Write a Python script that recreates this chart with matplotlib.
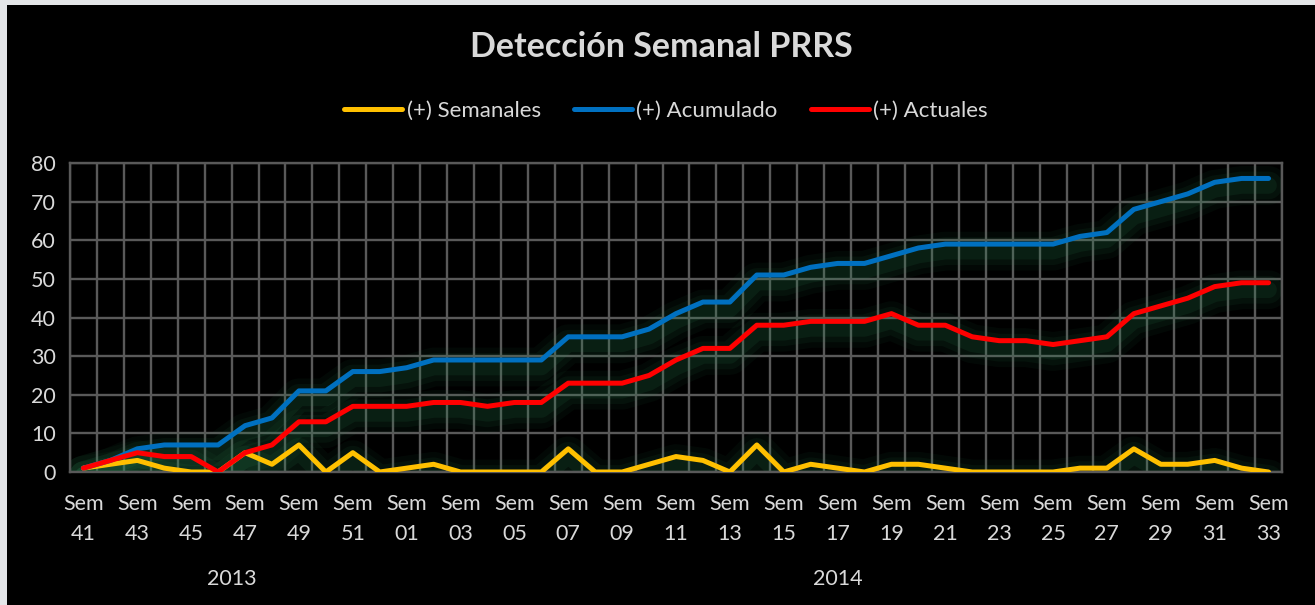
import matplotlib
matplotlib.use("Agg")
import matplotlib.pyplot as plt
import matplotlib.transforms as mtransforms
from matplotlib.patches import Rectangle

plt.rcParams['font.family'] = ['Lato', 'DejaVu Sans']

# ---- data ----
weeks_2013 = ["41", "42", "43", "44", "45", "46", "47", "48", "49", "50", "51", "52"]
weeks_2014 = ["01", "02", "03", "04", "05", "06", "07", "08", "09", "10", "11",
              "12", "13", "14", "15", "16", "17", "18", "19", "20", "21", "22",
              "23", "24", "25", "26", "27", "28", "29", "30", "31", "32", "33"]
years = ["2013", "2014"]

semanales = [1, 2, 3, 1, 0, 0, 5, 2, 7, 0, 5, 0,
             1, 2, 0, 0, 0, 0, 6, 0, 0, 2, 4, 3, 0, 7, 0, 2, 1, 0,
             2, 2, 1, 0, 0, 0, 0, 1, 1, 6, 2, 2, 3, 1, 0]
acumulado = [1, 3, 6, 7, 7, 7, 12, 14, 21, 21, 26, 26,
             27, 29, 29, 29, 29, 29, 35, 35, 35, 37, 41, 44, 44, 51, 51, 53, 54, 54,
             56, 58, 59, 59, 59, 59, 59, 61, 62, 68, 70, 72, 75, 76, 76]
actuales = [1, 3, 5, 4, 4, 0, 5, 7, 13, 13, 17, 17,
            17, 18, 18, 17, 18, 18, 23, 23, 23, 25, 29, 32, 32, 38, 38, 39, 39, 39,
            41, 38, 38, 35, 34, 34, 33, 34, 35, 41, 43, 45, 48, 49, 49]

series_names = ["(+) Semanales", "(+) Acumulado", "(+) Actuales"]
series_colors = ["#FFC000", "#0070C0", "#FF0000"]

categories = [("Sem\n" + w) for w in weeks_2013 + weeks_2014]
n = len(categories)
x = list(range(n))

W, H = 1315, 605
fig = plt.figure(figsize=(W / 100, H / 100), dpi=100)
fig.patch.set_facecolor("#E4E6E8")
fig.add_artist(Rectangle((7 / W, 0), 1 - 7 / W, 1 - 5 / H, transform=fig.transFigure,
                         facecolor="black", edgecolor="none", zorder=0))

ax = fig.add_axes([70 / W, 1 - 472 / H, (1282 - 70) / W, (472 - 163) / H])
ax.set_facecolor("black")

txt_c = "#D9D9D9"
grid_c = "#595959"
ax.set_xlim(-0.5, n - 0.5)
ax.set_ylim(0, 80)
ax.set_yticks(range(0, 81, 10))
ax.set_xticks(x[::2])
ax.set_xticklabels(categories[::2], linespacing=1.6)
ax.set_xticks([i - 0.5 for i in range(n + 1)], minor=True)
ax.grid(True, which="major", axis="y", color=grid_c, linewidth=1.7)
ax.grid(True, which="minor", axis="x", color=grid_c, linewidth=1.7)
ax.grid(False, which="major", axis="x")
ax.tick_params(axis="both", which="both", length=0, colors=txt_c, labelsize=15.5)
ax.tick_params(axis="x", pad=16)
ax.tick_params(axis="y", pad=10)
for s in ax.spines.values():
    s.set_color(grid_c)
    s.set_linewidth(1.7)
ax.set_axisbelow(True)

# glow shadows
shadow_tr = mtransforms.offset_copy(ax.transData, fig=fig, x=0, y=-7, units="dots")
for data in [semanales, acumulado, actuales]:
    for lw, a in [(28, 0.06), (20, 0.08), (12, 0.11)]:
        ax.plot(x, data, color="#2E8B57", linewidth=lw, alpha=a, transform=shadow_tr,
                solid_capstyle="round", solid_joinstyle="round", zorder=2)

lines = []
for k, (data, name, col) in enumerate(zip([semanales, acumulado, actuales], series_names, series_colors)):
    ln, = ax.plot(x, data, color=col, linewidth=3.6, label=name, zorder=3 + k,
                  solid_capstyle="round", solid_joinstyle="round")
    lines.append(ln)

# year labels
ax.text((len(weeks_2013) - 1) / 2, -0.345, years[0], transform=ax.get_xaxis_transform(),
        ha="center", va="center", color=txt_c, fontsize=15.5)
ax.text((len(weeks_2013) + n - 1) / 2, -0.345, years[1], transform=ax.get_xaxis_transform(),
        ha="center", va="center", color=txt_c, fontsize=15.5)

fig.text(661 / W, 1 - 47 / H, "Detección Semanal PRRS", ha="center", va="center",
         color=txt_c, fontsize=24.5, fontweight="bold")

leg = fig.legend(handles=lines, labels=series_names, loc="center",
                 bbox_to_anchor=(666 / W, 1 - 111 / H), ncol=3, frameon=False,
                 fontsize=16, handlelength=2.6, handletextpad=0.2, columnspacing=1.5)
for t in leg.get_texts():
    t.set_color(txt_c)

fig.savefig("out.png", dpi=100, facecolor=fig.get_facecolor())
